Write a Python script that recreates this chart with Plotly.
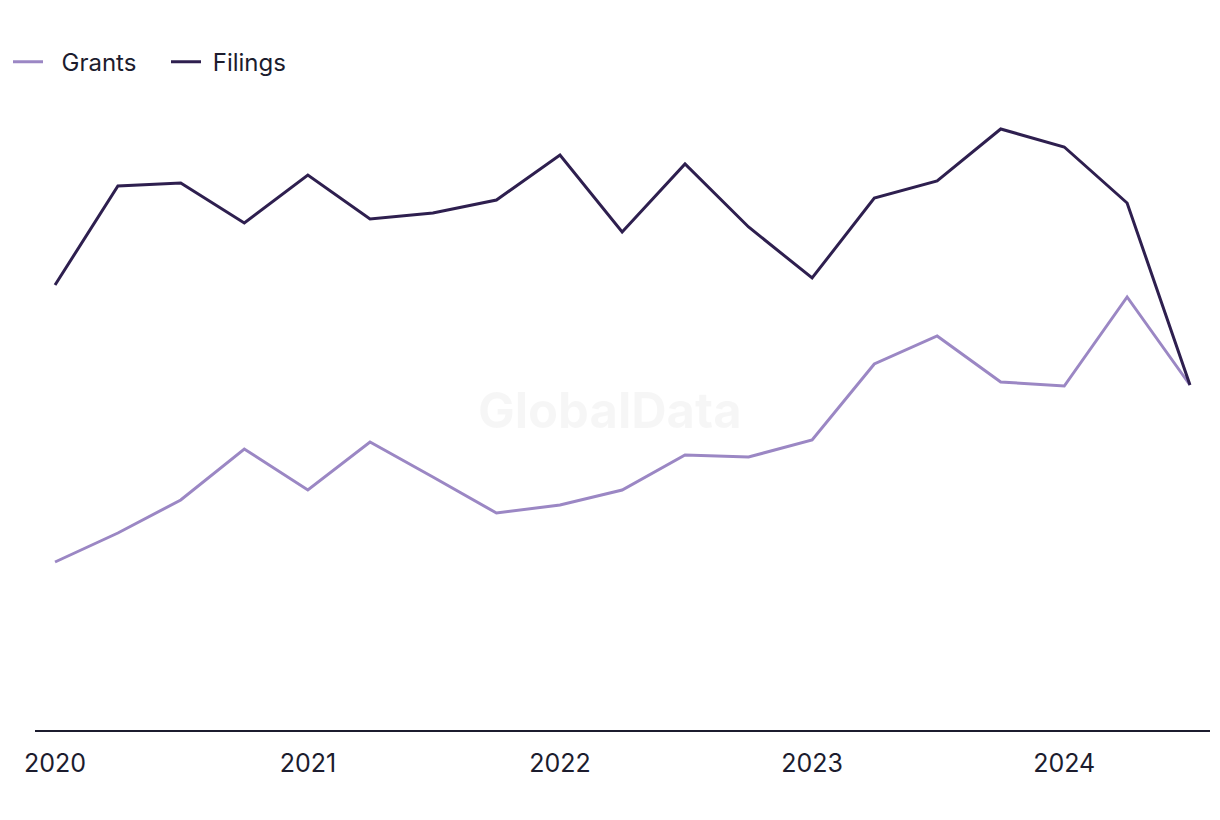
import plotly.graph_objects as go

quarters = ["2020-01-01", "2020-04-01", "2020-07-01", "2020-10-01",
            "2021-01-01", "2021-04-01", "2021-07-01", "2021-10-01",
            "2022-01-01", "2022-04-01", "2022-07-01", "2022-10-01",
            "2023-01-01", "2023-04-01", "2023-07-01", "2023-10-01",
            "2024-01-01", "2024-04-01", "2024-07-01"]
filings = [445, 544, 547, 507, 555, 511, 517, 530, 575, 498, 566, 503,
           452, 532, 549, 601, 583, 527, 345]
grants = [168, 197, 230, 281, 240, 288, 253, 217, 225, 240, 275, 273,
          290, 366, 394, 348, 344, 433, 345]
tick_vals = ["2020-01-01", "2021-01-01", "2022-01-01", "2023-01-01", "2024-01-01"]
tick_text = ["2020", "2021", "2022", "2023", "2024"]

fig = go.Figure()
fig.add_trace(go.Scatter(x=quarters, y=grants, mode="lines", name="\u00a0\u00a0Grants",
                         line=dict(color="#9b87c4", width=3)))
fig.add_trace(go.Scatter(x=quarters, y=filings, mode="lines", name="\u00a0Filings",
                         line=dict(color="#2e1f4f", width=3)))

fig.add_annotation(text="<b>GlobalData</b>", x=0.489, y=0.516, xref="paper", yref="paper",
                   showarrow=False,
                   font=dict(family="Inter, Roboto, sans-serif", size=49,
                             color="rgba(0,0,0,0.035)"))

fig.update_layout(
    width=1220, height=820,
    paper_bgcolor="white", plot_bgcolor="white",
    margin=dict(l=27, r=18, t=102, b=98),
    font=dict(family="Inter, Roboto, sans-serif", size=20, color="#1c1c2e"),
    showlegend=True,
    legend=dict(orientation="h", xref="container", x=-0.0085, xanchor="left",
                yref="container", y=0.934, yanchor="middle",
                font=dict(size=24, color="#1c1c2e"),
                entrywidth=113, entrywidthmode="pixels",
                bgcolor="rgba(0,0,0,0)"),
    xaxis=dict(type="date", range=["2019-12-03", "2024-07-30"],
               tickvals=tick_vals, ticktext=tick_text, showgrid=False,
               showline=True, linecolor="#1c1c2e", linewidth=2, ticks="",
               ticklabelstandoff=10,
               zeroline=False, tickfont=dict(size=25, color="#1c1c2e")),
    yaxis=dict(range=[0, 620], showgrid=False, showticklabels=False,
               zeroline=False, showline=False),
)

fig.write_html("out.html")
